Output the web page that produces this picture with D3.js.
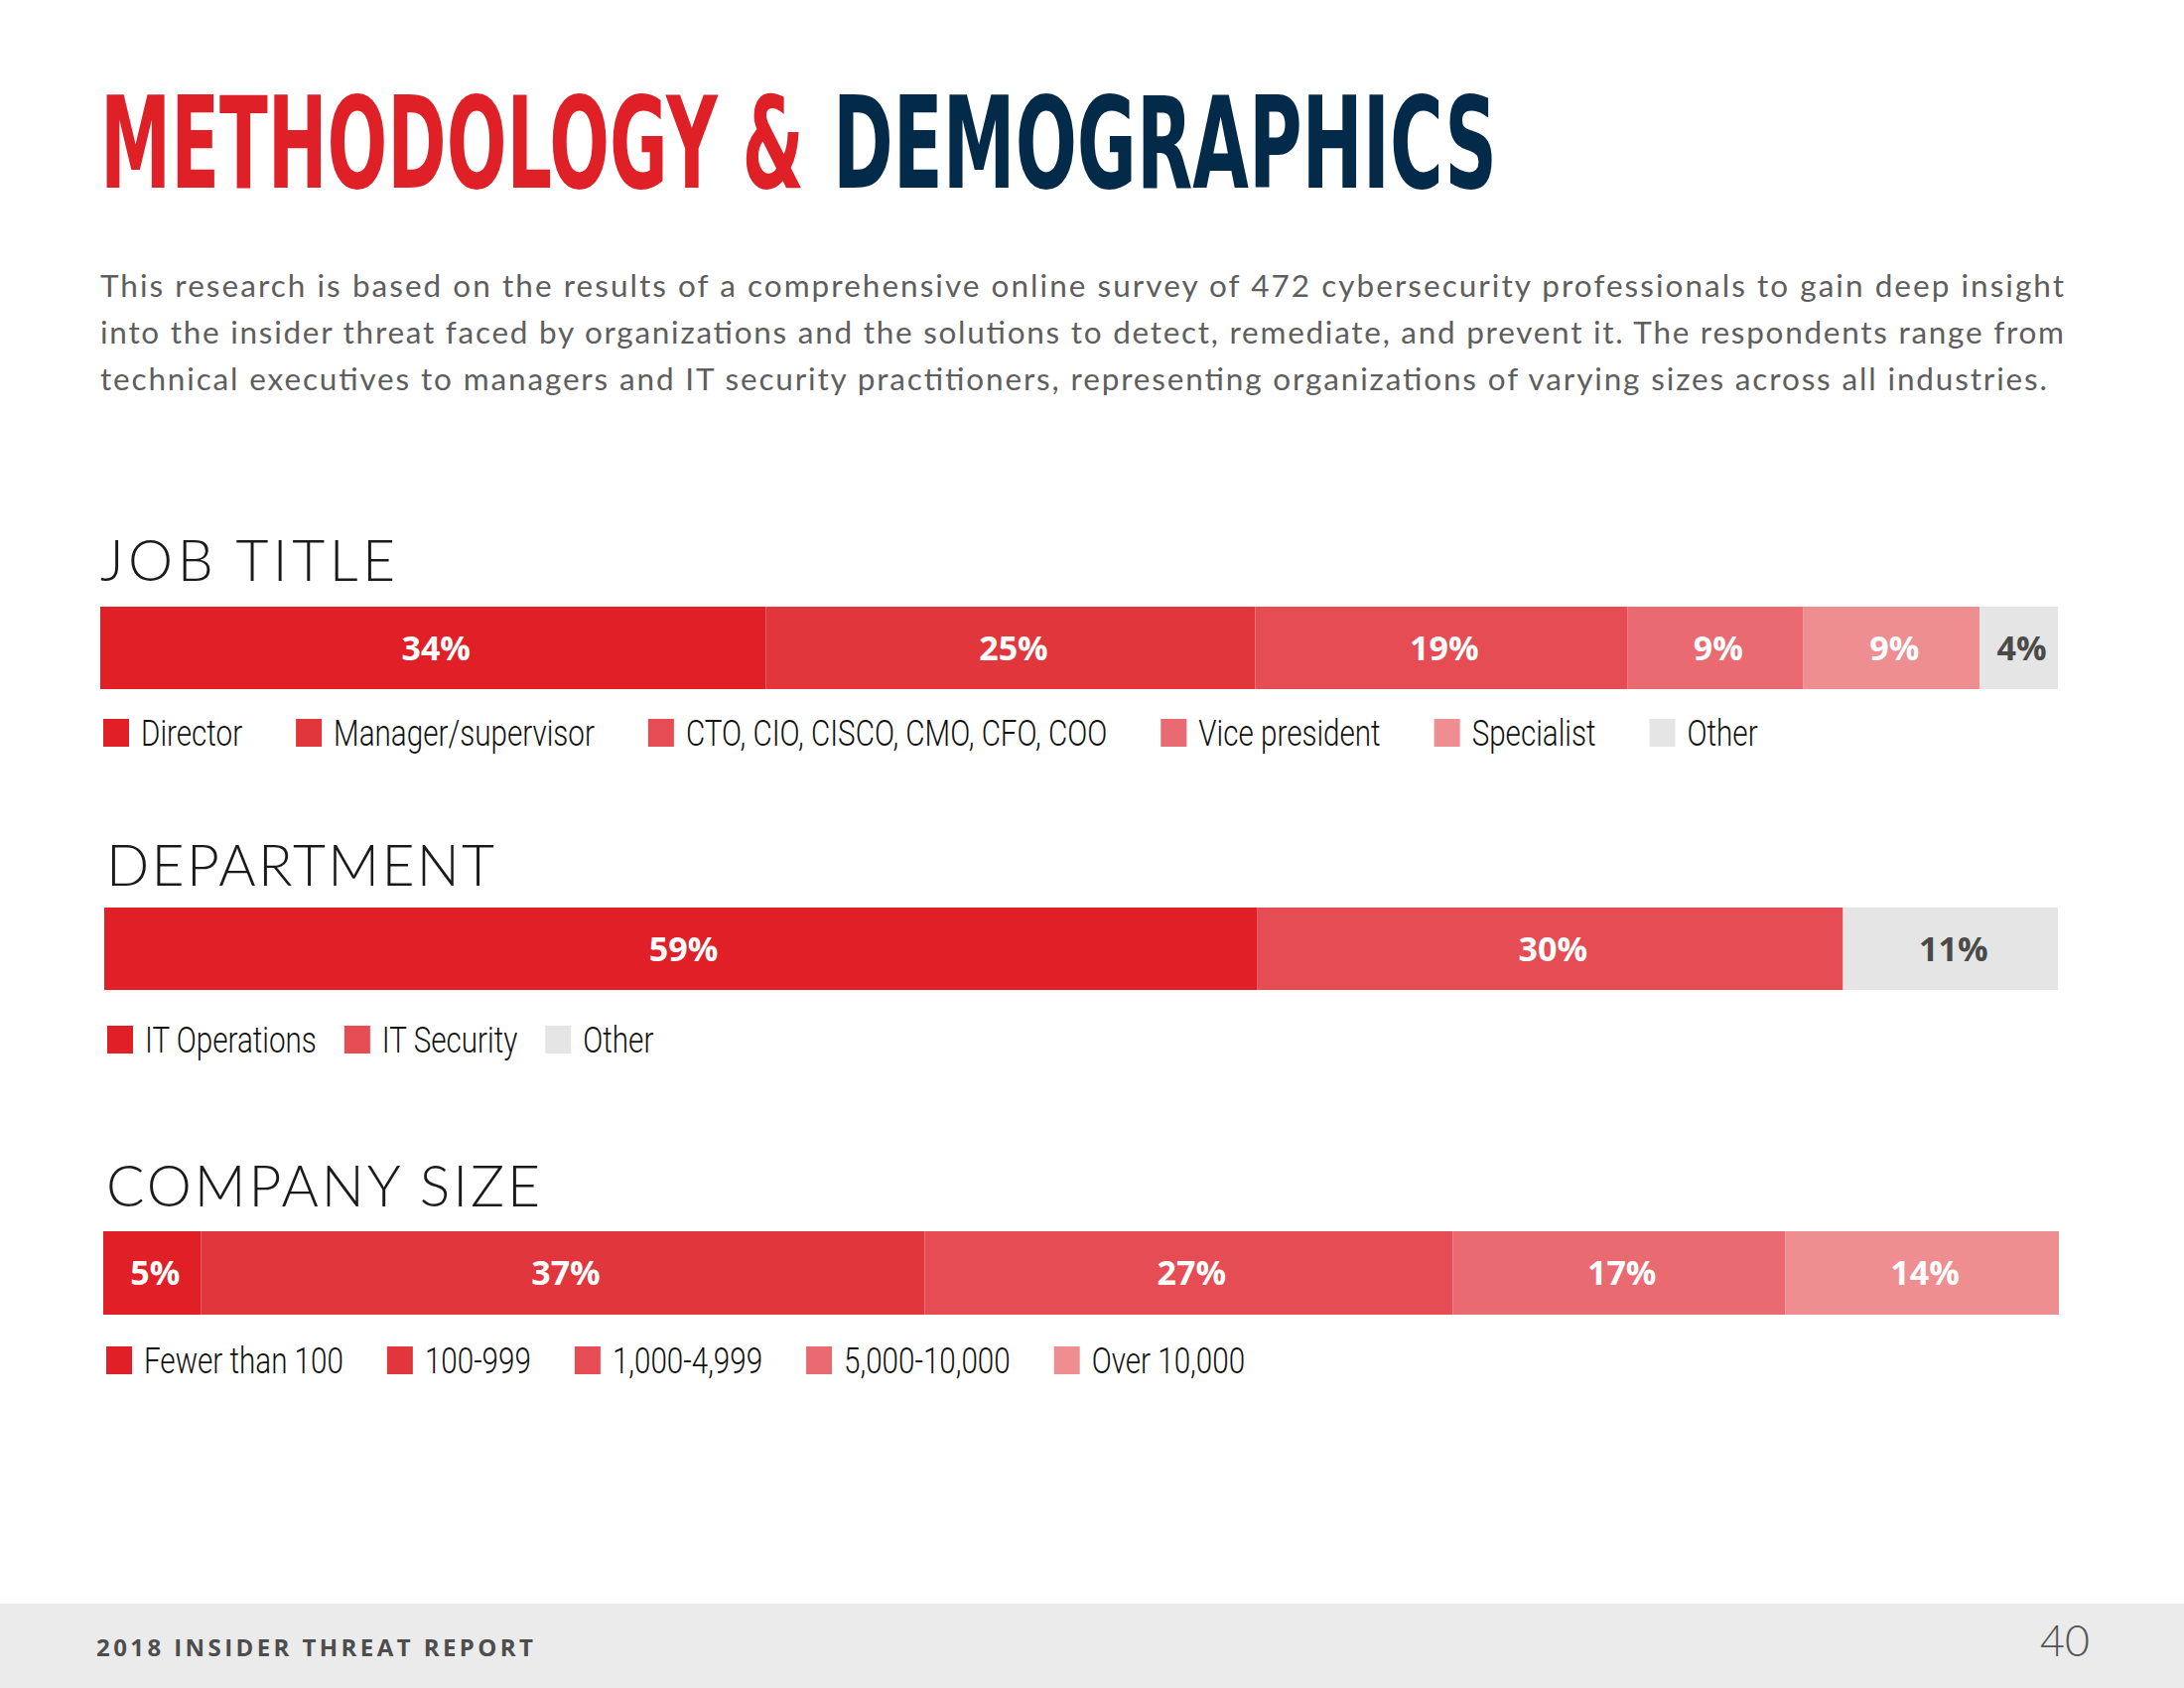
<!DOCTYPE html>
<html>
<head>
<meta charset="utf-8">
<script src="https://cdn.jsdelivr.net/npm/d3@7"></script>
<style>
  html, body { margin: 0; padding: 0; background: #fff; }
  svg { display: block; }
</style>
</head>
<body>
<svg id="chart" width="2200" height="1700"></svg>
<script>
// ---------------- DATA ----------------
const jobCategories = ["Director", "Manager/supervisor", "CTO, CIO, CISCO, CMO, CFO, COO", "Vice president", "Specialist", "Other"];
const jobValues = [34, 25, 19, 9, 9, 4];

const deptCategories = ["IT Operations", "IT Security", "Other"];
const deptValues = [59, 30, 11];

const sizeCategories = ["Fewer than 100", "100-999", "1,000-4,999", "5,000-10,000", "Over 10,000"];
const sizeValues = [5, 37, 27, 17, 14];

const sectionTitles = ["JOB TITLE", "DEPARTMENT", "COMPANY SIZE"];

const titleParts = ["METHODOLOGY &", "DEMOGRAPHICS"];
const introLines = [
  "This research is based on the results of a comprehensive online survey of 472 cybersecurity professionals to gain deep insight",
  "into the insider threat faced by organizations and the solutions to detect, remediate, and prevent it. The respondents range from",
  "technical executives to managers and IT security practitioners, representing organizations of varying sizes across all industries."
];
const footerLeft = "2018 INSIDER THREAT REPORT";
const footerPage = "40";

// ---------------- STYLES ----------------
const jobColors  = ["#E01F27", "#E2363D", "#E54C53", "#E96A70", "#EE8E91", "#E5E5E5"];
const deptColors = ["#E01F27", "#E54C53", "#E5E5E5"];
const sizeColors = ["#E01F27", "#E2363D", "#E54C53", "#E96A70", "#EE8E91"];

const svg = d3.select("#chart");

// Title: each part horizontally condensed with a transform to fit its span
const titleSpecs = [
  { text: titleParts[0], x: 101, width: 709, fill: "#DF2027" },
  { text: titleParts[1], x: 839, width: 669, fill: "#042A4A" }
];
titleSpecs.forEach(s => {
  const g = svg.append("g");
  const t = g.append("text")
    .attr("x", 0).attr("y", 0)
    .attr("font-family", "'Liberation Sans Narrow', 'DejaVu Sans Condensed', sans-serif")
    .attr("font-weight", 700).attr("font-size", 128)
    .attr("fill", s.fill)
    .text(s.text);
  const nat = t.node().getComputedTextLength();
  g.attr("transform", `translate(${s.x},189) scale(${s.width / nat},1)`);
});

// Intro paragraph
const introLens = [1978, 1978, 1961];
svg.selectAll("text.intro").data(introLines).join("text")
  .attr("class", "intro")
  .attr("x", 101).attr("y", (d, i) => 299 + i * 47)
  .attr("font-family", "Lato, 'Noto Sans', sans-serif").attr("font-size", 31.5)
  .attr("fill", "#5e5e5e")
  .attr("textLength", (d, i) => introLens[i]).attr("lengthAdjust", "spacing")
  .text(d => d);

// ---------------- SECTIONS ----------------
const sections = [
  { title: sectionTitles[0], cats: jobCategories, vals: jobValues, colors: jobColors,
    titleX: 101, titleY: 585, titleLen: 297,
    x0: 101, x1: 2073, barY: 611, barH: 83, legY: 724, legGap: 54 },
  { title: sectionTitles[1], cats: deptCategories, vals: deptValues, colors: deptColors,
    titleX: 107, titleY: 892, titleLen: 391,
    x0: 105, x1: 2073, barY: 914, barH: 83, legY: 1033, legGap: 28 },
  { title: sectionTitles[2], cats: sizeCategories, vals: sizeValues, colors: sizeColors,
    titleX: 107, titleY: 1215, titleLen: 437,
    x0: 104, x1: 2074, barY: 1240, barH: 84, legY: 1356, legGap: 44 }
];

sections.forEach(sec => {
  const g = svg.append("g");

  g.append("text")
    .attr("x", sec.titleX).attr("y", sec.titleY)
    .attr("font-family", "Lato, 'Open Sans', sans-serif").attr("font-weight", 300)
    .attr("font-size", 57).attr("fill", "#1a1a1a")
    .attr("textLength", sec.titleLen).attr("lengthAdjust", "spacing")
    .text(sec.title);

  const total = d3.sum(sec.vals);
  const x = d3.scaleLinear().domain([0, total]).range([sec.x0, sec.x1]);
  const cum = d3.cumsum(sec.vals);
  const segs = sec.vals.map((v, i) => ({ v, start: cum[i] - v, end: cum[i], color: sec.colors[i], cat: sec.cats[i] }));

  g.selectAll("rect.seg").data(segs).join("rect")
    .attr("class", "seg")
    .attr("x", d => x(d.start)).attr("y", sec.barY)
    .attr("width", d => x(d.end) - x(d.start)).attr("height", sec.barH)
    .attr("fill", d => d.color);

  g.selectAll("text.lab").data(segs).join("text")
    .attr("class", "lab")
    .attr("x", d => (x(d.start) + x(d.end)) / 2 + 3)
    .attr("y", sec.barY + sec.barH / 2 + 12)
    .attr("text-anchor", "middle")
    .attr("font-family", "'Open Sans', Lato, sans-serif").attr("font-weight", 700)
    .attr("font-size", 34)
    .attr("fill", d => d.color === "#E5E5E5" ? "#4a4a4a" : "#ffffff")
    .text(d => d.v + "%");

  // Legend (flow layout)
  let cx = sec.x0 + 3;
  segs.forEach(d => {
    g.append("rect")
      .attr("x", cx).attr("y", sec.legY)
      .attr("width", 26).attr("height", 28)
      .attr("fill", d.color);
    const t = g.append("text")
      .attr("x", cx + 38).attr("y", sec.legY + 27)
      .attr("font-family", "Roboto, 'Liberation Sans', sans-serif").attr("font-weight", 300)
      .attr("font-size", 37).attr("fill", "#111")
      .text(d.cat);
    const w = t.node().getComputedTextLength() * 0.8;
    t.attr("textLength", w).attr("lengthAdjust", "spacingAndGlyphs");
    cx = cx + 38 + w + sec.legGap;
  });
});

// ---------------- FOOTER ----------------
svg.append("rect").attr("x", 0).attr("y", 1615).attr("width", 2200).attr("height", 85).attr("fill", "#EBEBEB");
svg.append("text")
  .attr("x", 97).attr("y", 1668)
  .attr("font-family", "'Open Sans', Lato, sans-serif").attr("font-weight", 700)
  .attr("font-size", 24).attr("fill", "#4d4d4d")
  .attr("textLength", 440).attr("lengthAdjust", "spacing")
  .text(footerLeft);
svg.append("text")
  .attr("x", 2105).attr("y", 1668).attr("text-anchor", "end")
  .attr("font-family", "Lato, 'Open Sans', sans-serif").attr("font-weight", 300)
  .attr("font-size", 43).attr("fill", "#555")
  .text(footerPage);
</script>
</body>
</html>
